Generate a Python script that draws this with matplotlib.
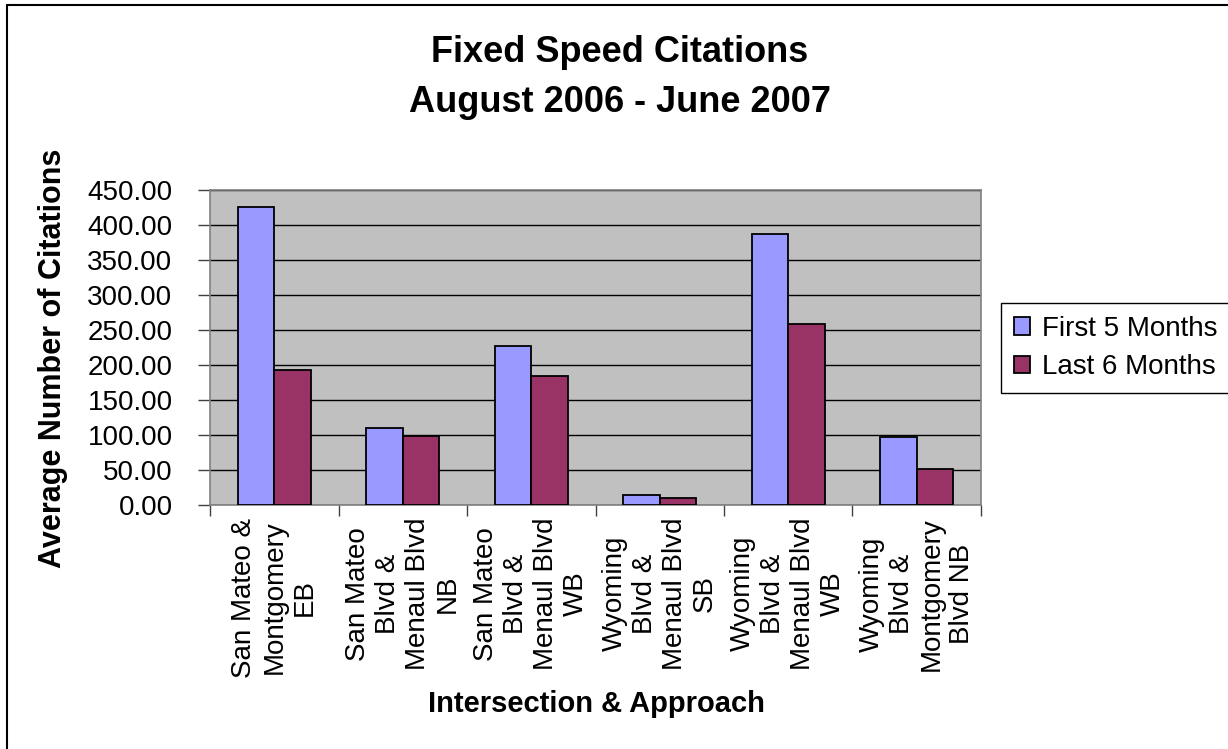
import matplotlib

matplotlib.use("Agg")
import matplotlib.pyplot as plt
import numpy as np
from matplotlib.patches import Rectangle


OUTPUT_PATH = "out.png"

CATEGORIES = [
    "San Mateo &\nMontgomery\nEB",
    "San Mateo\nBlvd &\nMenaul Blvd\nNB",
    "San Mateo\nBlvd &\nMenaul Blvd\nWB",
    "Wyoming\nBlvd &\nMenaul Blvd\nSB",
    "Wyoming\nBlvd &\nMenaul Blvd\nWB",
    "Wyoming\nBlvd &\nMontgomery\nBlvd NB",
]
FIRST_5_MONTHS = [426.0, 109.5, 227.5, 14.8, 387.0, 96.5]
LAST_6_MONTHS = [193.0, 98.8, 185.0, 9.5, 258.5, 51.5]
SERIES_LABELS = ["First 5 Months", "Last 6 Months"]
Y_TICKS = [0, 50, 100, 150, 200, 250, 300, 350, 400, 450]

BLUE = "#9999FF"
PLUM = "#993366"
PLOT_BG = "#C0C0C0"

W, H = 1228, 749

plt.rcParams["font.family"] = ["Liberation Sans", "DejaVu Sans"]


def main() -> None:
    fig = plt.figure(figsize=(W / 100, H / 100), dpi=100)
    fig.patch.set_facecolor("white")

    # plot area in pixel terms: x 210..981, y 190..505
    ax = fig.add_axes([210 / W, 1 - 505 / H, 771 / W, 315 / H])
    ax.set_facecolor(PLOT_BG)

    x = np.arange(len(CATEGORIES))
    bar_w = 1 / 3.5
    ax.bar(x - bar_w / 2, FIRST_5_MONTHS, bar_w, color=BLUE, edgecolor="black",
           linewidth=1.3, label=SERIES_LABELS[0], zorder=3)
    ax.bar(x + bar_w / 2, LAST_6_MONTHS, bar_w, color=PLUM, edgecolor="black",
           linewidth=1.3, label=SERIES_LABELS[1], zorder=3)

    ax.set_xlim(-0.5, len(CATEGORIES) - 0.5)
    ax.set_ylim(0, 450)
    ax.set_yticks(Y_TICKS)
    ax.set_yticklabels([f"{v:.2f}" for v in Y_TICKS], fontsize=20)
    ax.yaxis.grid(True, color="black", linewidth=1, zorder=1)
    ax.set_axisbelow(True)

    ax.set_xticks(np.arange(-0.5, len(CATEGORIES)))
    ax.set_xticklabels([])
    ax.set_xticks(x, minor=True)
    ax.set_xticklabels(CATEGORIES, minor=True, rotation=90, fontsize=20,
                       va="top", ha="center", multialignment="center")
    ax.tick_params(axis="x", which="major", length=8, color="#404040", width=1)
    ax.tick_params(axis="x", which="minor", length=0, pad=9)
    ax.tick_params(axis="y", length=9, color="#404040", width=1, pad=18)

    for spine in ax.spines.values():
        spine.set_color("#808080")
        spine.set_linewidth(1.2)

    fig.text(620 / W, 1 - 62 / H, "Fixed Speed Citations", fontsize=26,
             fontweight="bold", ha="center", va="baseline")
    fig.text(620 / W, 1 - 112 / H, "August 2006 - June 2007", fontsize=26,
             fontweight="bold", ha="center", va="baseline")
    fig.text(53 / W, 1 - 358 / H, "Average Number of Citations", fontsize=22,
             fontweight="bold", rotation=90, ha="center", va="center")
    fig.text(596 / W, 1 - 704 / H, "Intersection & Approach", fontsize=21,
             fontweight="bold", ha="center", va="center")

    leg = fig.legend(loc="center left", bbox_to_anchor=(1001 / W, 1 - 348 / H),
                     fontsize=20, frameon=True, fancybox=False, framealpha=1,
                     edgecolor="black", handlelength=0.58, handleheight=0.58,
                     handletextpad=0.45, borderpad=0.45, labelspacing=0.45,
                     borderaxespad=0)
    leg.get_frame().set_linewidth(1)

    # outer chart border (right and bottom edges fall outside the image)
    fig.patches.append(Rectangle((7 / W, -0.1), 1.2, 1 - 4.5 / H + 0.1,
                                 transform=fig.transFigure, fill=False,
                                 edgecolor="black", linewidth=1.5))

    fig.savefig(OUTPUT_PATH, dpi=100)
    plt.close(fig)


if __name__ == "__main__":
    main()
